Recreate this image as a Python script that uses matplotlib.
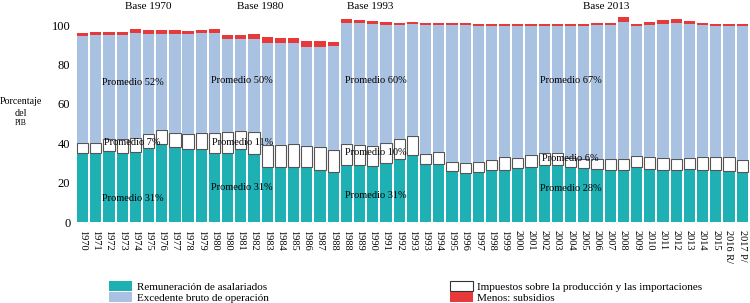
import matplotlib
matplotlib.use("Agg")
import matplotlib.pyplot as plt
from matplotlib.patches import Patch
import numpy as np

plt.rcParams['font.family'] = ['Liberation Serif', 'DejaVu Serif']

# etiquetas del eje x (cuatro bases)
anios = ([str(a) for a in range(1970, 1981)] + [str(a) for a in range(1980, 1989)]
         + [str(a) for a in range(1988, 1994)] + [str(a) for a in range(1993, 2016)]
         + ['2016 R/', '2017 P/'])

# porcentaje del PIB
remuneracion = [34.9, 34.9, 36.2, 34.9, 35.7, 37.4, 39.4, 38.2, 37.2, 36.9, 35.2,
                34.9, 36.9, 34.4, 28.1, 27.8, 27.8, 27.8, 26.2, 25.4,
                28.8, 28.8, 28.3, 30.1, 32.1, 34.0,
                29.3, 29.3, 25.9, 24.9, 25.4, 26.4, 26.4, 27.3, 28.1, 28.9, 28.9, 27.8, 27.3,
                26.8, 26.4, 26.4, 27.8, 26.8, 26.4, 26.4, 26.8, 26.4, 26.4, 25.9, 25.4]
impuestos = [5.4, 5.4, 5.8, 7.2, 6.8, 7.3, 7.1, 7.1, 7.3, 8.4, 10.1,
             10.6, 9.3, 11.4, 11.0, 11.1, 11.8, 10.8, 12.0, 11.1,
             10.8, 10.3, 10.4, 9.9, 9.9, 9.7,
             5.4, 6.1, 4.7, 4.9, 5.2, 5.1, 6.4, 5.3, 5.9, 6.0, 6.0, 4.5, 4.7,
             5.2, 5.6, 5.6, 5.7, 6.0, 5.9, 5.6, 5.5, 6.7, 6.7, 7.2, 6.1]
excedente = [54.3, 54.8, 53.1, 53.0, 53.4, 50.7, 48.9, 50.1, 51.1, 50.6, 50.6,
             47.4, 46.7, 47.1, 51.8, 52.0, 51.3, 50.2, 50.6, 52.8,
             61.4, 61.8, 61.8, 60.0, 58.0, 56.8,
             65.5, 64.8, 69.4, 70.0, 69.1, 68.2, 66.9, 67.1, 65.7, 64.8, 64.8, 67.4, 67.7,
             68.0, 68.0, 69.5, 66.2, 67.4, 68.4, 68.9, 68.2, 66.9, 66.6, 66.6, 68.2]
subsidios = [1.2, 1.2, 1.2, 1.2, 2.1, 2.1, 2.1, 2.1, 1.4, 1.6, 2.1,
             2.0, 1.9, 2.5, 3.2, 2.7, 2.7, 2.9, 2.9, 1.9,
             2.0, 1.6, 1.5, 1.5, 1.0, 1.0,
             0.8, 0.8, 1.0, 1.1, 0.8, 0.8, 0.8, 0.8, 0.8, 0.8, 0.8, 0.8, 0.8,
             1.0, 1.0, 2.7, 0.8, 1.3, 1.8, 2.1, 1.5, 1.0, 0.8, 0.8, 0.8]

bases = ['Base 1970', 'Base 1980', 'Base 1993', 'Base 2013']
promedios = [('Promedio 52%', 'Promedio 7%', 'Promedio 31%'),
             ('Promedio 50%', 'Promedio 11%', 'Promedio 31%'),
             ('Promedio 60%', 'Promedio 10%', 'Promedio 31%'),
             ('Promedio 67%', 'Promedio 6%', 'Promedio 28%')]

c_rem = '#1fb0b4'
c_exc = '#aac2e2'
c_sub = '#e8393a'

fig = plt.figure(figsize=(7.5, 3.03), dpi=100)
ax = fig.add_axes([0.1013, 0.2673, 0.897, 0.689])

x = np.arange(len(anios))
rem = np.array(remuneracion)
imp = np.array(impuestos)
exc = np.array(excedente)
w = 0.85
ax.bar(x, rem, w, color=c_rem, linewidth=0)
ax.bar(x, imp, w, bottom=rem, color='white', edgecolor='#555555', linewidth=0.8)
ax.bar(x, exc, w, bottom=rem + imp, color=c_exc, linewidth=0)
ax.bar(x, subsidios, w, bottom=rem + imp + exc, color=c_sub, linewidth=0)

ax.set_xlim(-0.5, len(anios) - 0.5)
ax.set_ylim(0, 106)
ax.set_yticks([0, 20, 40, 60, 80, 100])
ax.tick_params(axis='y', length=0, labelsize=9, pad=4)
ax.set_xticks(x)
ax.set_xticklabels(anios, rotation=-90, fontsize=7.5)
ax.tick_params(axis='x', length=0, pad=6)
for s in ax.spines.values():
    s.set_visible(False)

# titulos de las bases
tr = ax.get_xaxis_transform()
for xb, b in zip([5.0, 13.5, 21.8, 39.7], bases):
    ax.text(xb, 1.032, b, transform=tr, ha='center', va='center', fontsize=8)

# promedios
pos_x = [3.8, 12.1, 22.2, 37.0]
pos_y = [(70.6, 40.5, 11.7), (71.6, 40.3, 17.3), (72.0, 35.4, 13.7), (72.0, 32.0, 17.1)]
for xp, ys, txts in zip(pos_x, pos_y, promedios):
    for yp, t in zip(ys, txts):
        ax.text(xp, yp, t, ha='center', va='center', fontsize=7.5)

fig.text(0.028, 0.665, 'Porcentaje', ha='center', va='center', fontsize=7.2)
fig.text(0.028, 0.627, 'del', ha='center', va='center', fontsize=7.2)
fig.text(0.028, 0.593, 'PIB', ha='center', va='center', fontsize=5.5)

h1 = [Patch(facecolor=c_rem, label='Remuneración de asalariados'),
      Patch(facecolor=c_exc, label='Excedente bruto de operación')]
h2 = [Patch(facecolor='white', edgecolor='#333333', linewidth=0.8,
            label='Impuestos sobre la producción y las importaciones'),
      Patch(facecolor=c_sub, label='Menos: subsidios')]
kw = dict(frameon=False, fontsize=8, handlelength=2.1, handleheight=0.9,
          handletextpad=0.4, labelspacing=0.05, borderpad=0)
fig.legend(handles=h1, loc='upper left', bbox_to_anchor=(0.138, 0.09), **kw)
fig.legend(handles=h2, loc='upper left', bbox_to_anchor=(0.592, 0.09), **kw)

fig.savefig('out.png', dpi=100)
